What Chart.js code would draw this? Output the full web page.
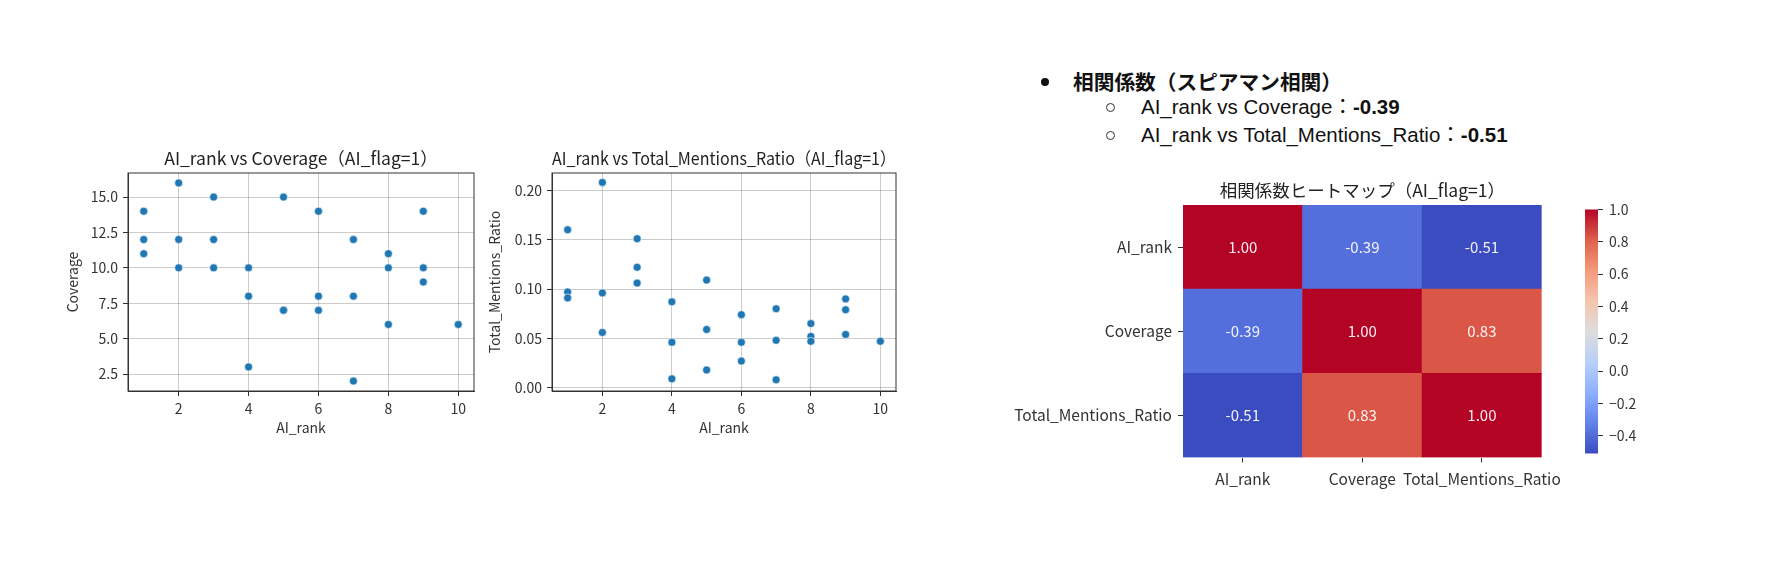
<!DOCTYPE html>
<html lang="ja">
<head>
<meta charset="utf-8">
<script src="https://cdn.jsdelivr.net/npm/chart.js@4.4.1/dist/chart.umd.min.js"></script>
<style>
  body { margin: 0; background: #fff; width: 1770px; height: 568px; position: relative; overflow: hidden; }
  canvas, .txt, .dot, .ring { position: absolute; }
  .head { font: bold 20.7px "Noto Sans CJK JP", sans-serif; color: #111; line-height: 20px; white-space: nowrap; }
  .sub { font: 20.5px "Liberation Sans", "Noto Sans CJK JP", sans-serif; color: #111; line-height: 20px; white-space: nowrap; }
  .dot { width: 8px; height: 8px; border-radius: 50%; background: #111; }
  .ring { width: 7px; height: 7px; border: 1px solid #333; border-radius: 50%; }
</style>
</head>
<body>
<div class="dot" style="left:1041px;top:78px"></div>
<div class="txt head" id="headText" style="left:1073px;top:71px"></div>
<div class="ring" style="left:1106px;top:103px"></div>
<div class="txt sub" id="sub1" style="left:1141px;top:97px"></div>
<div class="ring" style="left:1106px;top:131px"></div>
<div class="txt sub" id="sub2" style="left:1141px;top:125px"></div>

<canvas id="covChart" width="420" height="301" style="left:60px;top:140px"></canvas>
<canvas id="ratioChart" width="420" height="301" style="left:482px;top:140px"></canvas>
<canvas id="heatChart" width="573" height="323" style="left:1000px;top:175px"></canvas>
<canvas id="barChart" width="73" height="273" style="left:1585px;top:195px"></canvas>

<script>
// データ (AI_flag=1)
const aiRank   = [1, 1, 1, 2, 2, 2, 3, 3, 3, 4, 4, 4, 5, 5, 5, 6, 6, 6, 7, 7, 7, 8, 8, 8, 9, 9, 9, 10];
const coverage = [14, 12, 11, 16, 12, 10, 15, 12, 10, 10, 8, 3, 15, 7, 7, 14, 8, 7, 12, 8, 2, 11, 10, 6, 14, 10, 9, 6];
const mentionsRatio = [0.160, 0.097, 0.091, 0.208, 0.096, 0.056, 0.151, 0.122, 0.106, 0.087, 0.046, 0.009,
                       0.109, 0.059, 0.018, 0.074, 0.046, 0.027, 0.080, 0.048, 0.008, 0.065, 0.052, 0.047,
                       0.090, 0.079, 0.054, 0.047];

const xTicks = [2, 4, 6, 8, 10];
const covTicks = [2.5, 5, 7.5, 10, 12.5, 15];
const ratioTicks = [0, 0.05, 0.10, 0.15, 0.20];

// 相関係数 (スピアマン)
const hmLabels = ['AI_rank', 'Coverage', 'Total_Mentions_Ratio'];
const corrAIrank   = [1.00, -0.39, -0.51];
const corrCoverage = [-0.39, 1.00, 0.83];
const corrMentions = [-0.51, 0.83, 1.00];
const corrRows = [corrAIrank, corrCoverage, corrMentions];
const cbTicks = [-0.4, -0.2, 0.0, 0.2, 0.4, 0.6, 0.8, 1.0];

const FONT = '"Noto Sans CJK JP", sans-serif';
Chart.defaults.font.family = FONT;
Chart.defaults.color = '#333';

// テキスト部分
document.getElementById('headText').textContent = '相関係数（スピアマン相関）';
document.getElementById('sub1').innerHTML = 'AI_rank vs Coverage：<b>' + corrAIrank[1].toFixed(2) + '</b>';
document.getElementById('sub2').innerHTML = 'AI_rank vs Total_Mentions_Ratio：<b>' + corrAIrank[2].toFixed(2) + '</b>';

// coolwarm カラーマップ (近似)
const cwStops = [
  [0.0, [59, 76, 192]], [0.125, [98, 130, 234]], [0.25, [141, 176, 254]],
  [0.375, [184, 208, 249]], [0.5, [221, 221, 221]], [0.625, [245, 196, 173]],
  [0.75, [244, 154, 123]], [0.875, [222, 96, 76]], [1.0, [180, 4, 38]]
];
function cmap(t) {
  t = Math.max(0, Math.min(1, t));
  for (let i = 0; i < cwStops.length - 1; i++) {
    const [t0, c0] = cwStops[i];
    const [t1, c1] = cwStops[i + 1];
    if (t <= t1) {
      const f = (t - t0) / (t1 - t0);
      const c = c0.map((v, k) => Math.round(v + f * (c1[k] - v)));
      return 'rgb(' + c.join(',') + ')';
    }
  }
  return 'rgb(180,4,38)';
}
const allCorr = corrRows.flat();
const vmin = Math.min(...allCorr);
const vmax = Math.max(...allCorr);

// 枠線
const framePlugin = {
  id: 'frame',
  afterDatasetsDraw(chart) {
    const { ctx, chartArea: a } = chart;
    ctx.save();
    ctx.strokeStyle = '#333';
    ctx.lineWidth = 1;
    ctx.strokeRect(a.left, a.top, a.right - a.left, a.bottom - a.top);
    ctx.restore();
  }
};

function makeScatter(id, yVals, yTicks, yMin, yMax, digits, title, yTitle, yWidth) {
  new Chart(document.getElementById(id), {
    type: 'scatter',
    data: {
      datasets: [{
        data: aiRank.map((x, i) => ({ x: x, y: yVals[i] })),
        backgroundColor: '#1f77b4',
        borderColor: '#ffffff',
        borderWidth: 0.6,
        pointRadius: 4
      }]
    },
    options: {
      responsive: false,
      animation: false,
      layout: { padding: { left: 0, right: 6, top: 0, bottom: 0 } },
      plugins: {
        legend: { display: false },
        tooltip: { enabled: false },
        title: {
          display: true, text: title, fullSize: false, color: '#222',
          font: { family: FONT, size: 17.5, weight: 'normal' },
          padding: { top: 7.5, bottom: 4.5 }
        }
      },
      scales: {
        x: {
          type: 'linear', min: 0.55, max: 10.45,
          afterBuildTicks: s => { s.ticks = xTicks.map(v => ({ value: v })); },
          afterFit: s => { s.height = 50; },
          ticks: { font: { size: 14 }, padding: 4, callback: v => String(v) },
          grid: { color: 'rgba(0,0,0,0.2)', tickColor: '#333', tickLength: 5 },
          border: { display: true, color: '#333' },
          title: { display: true, text: 'AI_rank', font: { size: 14 }, padding: { top: 0, bottom: 4.6 } }
        },
        y: {
          type: 'linear', min: yMin, max: yMax,
          afterBuildTicks: s => { s.ticks = yTicks.map(v => ({ value: v })); },
          afterFit: s => { s.width = yWidth; },
          ticks: { font: { size: 14 }, padding: 5, callback: v => v.toFixed(digits) },
          grid: { color: 'rgba(0,0,0,0.2)', tickColor: '#333', tickLength: 5 },
          border: { display: true, color: '#333' },
          title: { display: true, text: yTitle, font: { size: 14 }, padding: { top: 4.6, bottom: 0 } }
        }
      }
    },
    plugins: [framePlugin]
  });
}

makeScatter('covChart', coverage, covTicks, 1.3, 16.7, 1,
  'AI_rank vs Coverage（AI_flag=1）', 'Coverage', 68);
makeScatter('ratioChart', mentionsRatio, ratioTicks, -0.0033, 0.2175, 2,
  'AI_rank vs Total_Mentions_Ratio（AI_flag=1）', 'Total_Mentions_Ratio', 70);

// ヒートマップ
const annotPlugin = {
  id: 'annot',
  afterDatasetsDraw(chart) {
    const ctx = chart.ctx;
    ctx.save();
    ctx.font = '15px ' + FONT;
    ctx.fillStyle = 'rgba(255,255,255,0.92)';
    ctx.textAlign = 'center';
    ctx.textBaseline = 'middle';
    chart.data.datasets.forEach((ds, i) => {
      chart.getDatasetMeta(i).data.forEach((bar, j) => {
        const p = bar.getProps(['x', 'y', 'base'], true);
        ctx.fillText(ds.corr[j].toFixed(2), p.x, (p.y + p.base) / 2);
      });
    });
    ctx.restore();
  }
};

const rowOrder = [2, 1, 0]; // 下から上へ
new Chart(document.getElementById('heatChart'), {
  type: 'bar',
  data: {
    labels: hmLabels,
    datasets: rowOrder.map(r => ({
      label: hmLabels[r],
      data: hmLabels.map(() => 1),
      corr: corrRows[r],
      backgroundColor: corrRows[r].map(v => cmap((v - vmin) / (vmax - vmin))),
      borderWidth: 0,
      barPercentage: 1,
      categoryPercentage: 1
    }))
  },
  options: {
    responsive: false,
    animation: false,
    layout: { padding: { left: 0, right: 10, top: 0, bottom: 0 } },
    plugins: {
      legend: { display: false },
      tooltip: { enabled: false },
      title: {
        display: true, text: '相関係数ヒートマップ（AI_flag=1）', fullSize: false, color: '#222',
        font: { family: FONT, size: 17.5, weight: 'normal' },
        padding: { top: 5, bottom: 4 }
      }
    },
    scales: {
      x: {
        stacked: true,
        afterFit: s => { s.height = 40.5; },
        ticks: { font: { size: 15.5 }, padding: 7, maxRotation: 0, autoSkip: false },
        grid: { drawOnChartArea: false, offset: false, tickLength: 5, tickColor: '#333' },
        border: { display: false }
      },
      y: {
        stacked: true, min: 0, max: hmLabels.length,
        afterBuildTicks: s => { s.ticks = hmLabels.map((_, i) => ({ value: i + 0.5 })); },
        afterFit: s => { s.width = 183; },
        ticks: { font: { size: 15.5 }, padding: 6, callback: v => hmLabels[hmLabels.length - 1 - Math.floor(v)] },
        grid: { drawOnChartArea: false, tickLength: 5, tickColor: '#333' },
        border: { display: false }
      }
    }
  },
  plugins: [annotPlugin]
});

// カラーバー
function cbGradient(c) {
  const a = c.chart.chartArea;
  if (!a) return cmap(0.5);
  const g = c.chart.ctx.createLinearGradient(0, a.bottom, 0, a.top);
  cwStops.forEach(([t, col]) => g.addColorStop(t, 'rgb(' + col.join(',') + ')'));
  return g;
}
new Chart(document.getElementById('barChart'), {
  type: 'bar',
  data: {
    labels: [''],
    datasets: [{
      data: [[vmin, vmax]],
      backgroundColor: cbGradient,
      borderWidth: 0,
      barPercentage: 1,
      categoryPercentage: 1
    }]
  },
  options: {
    responsive: false,
    animation: false,
    layout: { padding: { left: 0, right: 0, top: 10, bottom: 10.5 } },
    plugins: { legend: { display: false }, tooltip: { enabled: false } },
    scales: {
      x: { display: false },
      y: {
        position: 'right', min: vmin, max: vmax,
        afterBuildTicks: s => { s.ticks = cbTicks.map(v => ({ value: v })); },
        afterFit: s => { s.width = 60; },
        ticks: { font: { size: 14 }, padding: 6, callback: v => v.toFixed(1).replace('-', '\u2212') },
        grid: { drawOnChartArea: false, tickLength: 5, tickColor: '#333' },
        border: { display: false }
      }
    }
  }
});
</script>
</body>
</html>
